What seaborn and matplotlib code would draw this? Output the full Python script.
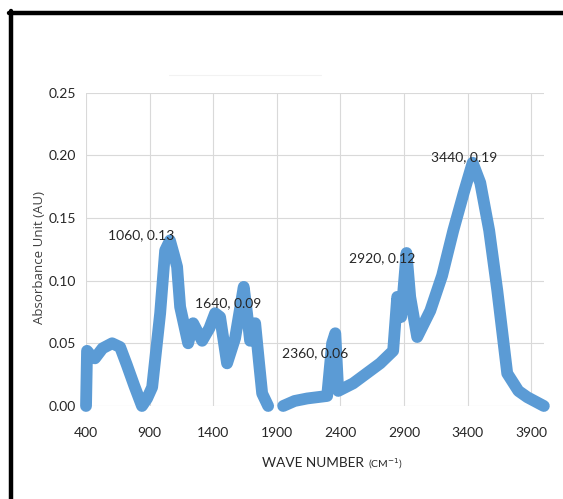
import matplotlib
matplotlib.use("Agg")
import matplotlib.pyplot as plt
import seaborn as sns
import pandas as pd

# spectrum (wave number, absorbance)
wave_number = [400, 408, 440, 470, 530, 605, 668, 720, 780, 840, 880, 920, 983, 1022,
               1060, 1090, 1116, 1140, 1203, 1242, 1313, 1370, 1415, 1454, 1509,
               1572, 1640, 1666, 1690, 1730, 1760, 1785, 1832]
absorbance = [0.000, 0.044, 0.040, 0.038, 0.046, 0.050, 0.047, 0.033, 0.016, 0.000,
              0.006, 0.015, 0.074, 0.124, 0.132, 0.121, 0.111, 0.079, 0.050, 0.066,
              0.052, 0.062, 0.074, 0.071, 0.034, 0.054, 0.095, 0.074, 0.052, 0.066,
              0.035, 0.010, 0.000]

wave_number_2 = [1950, 2040, 2139, 2296, 2335, 2360, 2383, 2500, 2713, 2815, 2847,
                 2878, 2920, 2949, 3004, 3107, 3200, 3288, 3370, 3440, 3500, 3570,
                 3634, 3712, 3800, 3870, 4000]
absorbance_2 = [0.000, 0.004, 0.006, 0.008, 0.050, 0.058, 0.012, 0.018, 0.034, 0.044,
                0.087, 0.071, 0.122, 0.087, 0.055, 0.076, 0.104, 0.140, 0.170, 0.194,
                0.178, 0.140, 0.092, 0.026, 0.012, 0.007, 0.000]

peak_x = [1060, 1640, 2360, 2920, 3440]
peak_y = [0.13, 0.09, 0.06, 0.12, 0.19]
x_ticks = [400, 900, 1400, 1900, 2400, 2900, 3400, 3900]
y_ticks = [0.00, 0.05, 0.10, 0.15, 0.20, 0.25]

sns.set_style("whitegrid")
plt.rcParams['font.family'] = ['Lato', 'DejaVu Sans']

blue = "#5B9BD5"
fig = plt.figure(figsize=(5.63, 4.99), dpi=100)
ax = fig.add_axes([0.1528, 0.1864, 0.966 - 0.1528, 0.8146 - 0.1864])

df1 = pd.DataFrame({"wn": wave_number, "a": absorbance})
df2 = pd.DataFrame({"wn": wave_number_2, "a": absorbance_2})
for d in (df1, df2):
    sns.lineplot(data=d, x="wn", y="a", ax=ax, color=blue, linewidth=8.5,
                 solid_capstyle="round", solid_joinstyle="round",
                 sort=False, clip_on=False, zorder=3)

ax.set_xlim(400, 4000)
ax.set_ylim(0, 0.25)
ax.set_xticks(x_ticks)
ax.set_yticks(y_ticks)
ax.set_yticklabels([f"{v:.2f}" for v in y_ticks])
ax.set_xlabel("")
ax.set_ylabel("")
ax.grid(True, color="#d9d9d9", linewidth=0.8)
for s in ax.spines.values():
    s.set_visible(False)
ax.tick_params(axis="both", length=0, labelsize=10, colors="#262626")
ax.tick_params(axis="x", pad=15)
ax.tick_params(axis="y", pad=7)

# data labels
offsets = [(-29, 8), (-16, -10), (-20, -22), (-24, -3), (-9, 11)]
for px, py, (dx, dy) in zip(peak_x, peak_y, offsets):
    ax.annotate(f"{px}, {py:.2f}", (px, py), xytext=(dx, dy),
                textcoords="offset pixels", ha="center", va="center",
                fontsize=10, color="#262626", zorder=5)

fig.text(0.071, 0.483, "Absorbance Unit (AU)", rotation=90, ha="center", va="center",
         fontsize=9.5, color="#404040", family=["Open Sans", "DejaVu Sans"])
fig.text(0.556, 0.072, "WAVE NUMBER", ha="center", va="center", fontsize=9.8,
         color="#262626")
fig.text(0.684, 0.070, "(CM$^{-1}$)", ha="center", va="center", fontsize=7.5,
         color="#262626")

# frame of the screenshot
fig.add_artist(plt.Line2D([0.016, 1.0], [1 - 13 / 499, 1 - 13 / 499],
                          transform=fig.transFigure, color="black", linewidth=3.2))
fig.add_artist(plt.Line2D([11 / 563, 11 / 563], [0, 1 - 11 / 499],
                          transform=fig.transFigure, color="black", linewidth=3.2))
fig.add_artist(plt.Line2D([0.3, 0.57], [1 - 75 / 499, 1 - 75 / 499],
                          transform=fig.transFigure, color="#f2f2f2", linewidth=0.8))

fig.savefig("out.png", dpi=100)
